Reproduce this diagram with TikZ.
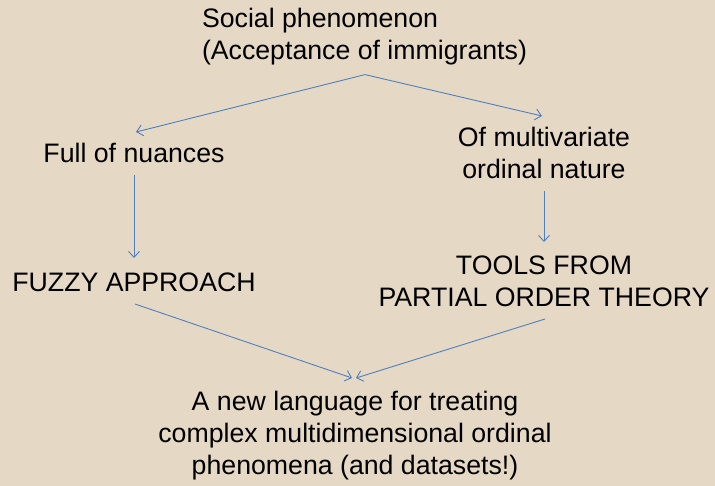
\documentclass[tikz,border=0pt]{standalone}
\usepackage{fontspec}
\setmainfont{Liberation Sans}
\usetikzlibrary{arrows.meta}
\definecolor{bg}{RGB}{229,216,196}
\definecolor{arrowblue}{RGB}{79,129,189}
\tikzset{
  txt/.style={inner sep=0pt, outer sep=0pt, anchor=base, font=\fontsize{26.7}{32}\selectfont, text=black},
  arr/.style={draw=arrowblue, line width=0.9pt, -{Straight Barb[length=6pt,width=11pt,line width=0.9pt]}}
}
\newcommand{\ml}[1]{\setlength{\tabcolsep}{0pt}\begin{tabular}[t]{c}#1\end{tabular}}
\newcommand{\mll}[1]{\setlength{\tabcolsep}{0pt}\begin{tabular}[t]{l}#1\end{tabular}}
\begin{document}
\begin{tikzpicture}[x=1pt,y=-1pt]
\path[fill=bg, use as bounding box] (0,0) rectangle (715,486);
\node[txt, anchor=base west] (top) at (202,28) {\mll{Social phenomenon\\(Acceptance of immigrants)}};
\node[txt] (nuance) at (134,163) {\ml{Full of nuances}};
\node[txt] (multi) at (544,147) {\ml{Of multivariate\\ordinal nature}};
\node[txt] (fuzzy) at (134,292) {\ml{FUZZY APPROACH}};
\node[txt] (tools) at (544,275) {\ml{TOOLS FROM\\PARTIAL ORDER THEORY}};
\node[txt] (lang) at (355,410) {\ml{A new language for treating\\complex multidimensional ordinal\\phenomena (and datasets!)}};
\draw[arr] ([xshift=0.5pt,yshift=-5pt]top.south) -- ([xshift=2pt,yshift=8.6pt]nuance.north);
\draw[arr] ([xshift=0.5pt,yshift=-5pt]top.south) -- ([xshift=-2pt,yshift=8.6pt]multi.north);
\draw[arr] ([yshift=-2.5pt]nuance.south) -- ([yshift=11.6pt]fuzzy.north);
\draw[arr] ([yshift=-2.4pt]multi.south) -- ([yshift=10.6pt]tools.north);
\draw[arr] ([xshift=1pt,yshift=-2.4pt]fuzzy.south) -- ([xshift=-3pt,yshift=9.6pt]lang.north);
\draw[arr] ([xshift=1pt,yshift=-2.4pt]tools.south) -- ([xshift=1pt,yshift=9.6pt]lang.north);
\end{tikzpicture}
\end{document}
